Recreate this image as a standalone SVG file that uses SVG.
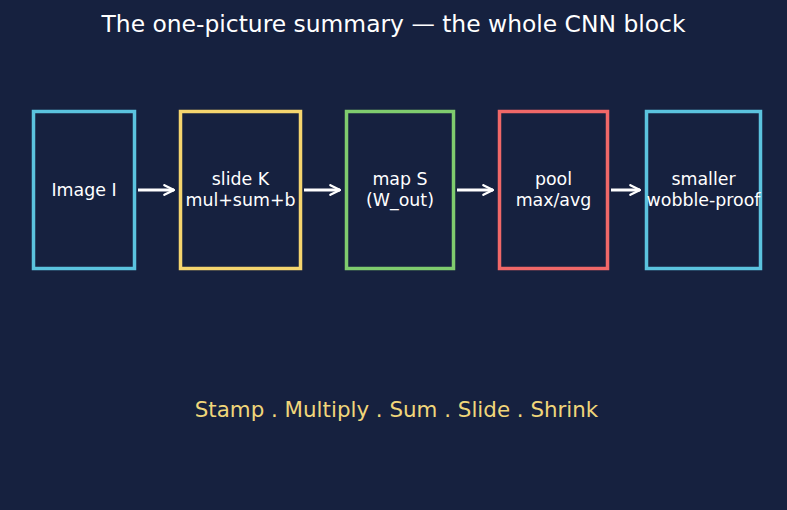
<svg xmlns="http://www.w3.org/2000/svg" width="787" height="510" viewBox="0 0 787 510">
<defs>
<style>
.t{font-family:"DejaVu Sans",sans-serif;fill:#ffffff;text-anchor:middle}
.n{font-size:17.4px}
.box{fill:#16213f;stroke-width:3.5}
.c{stroke:#ffffff;stroke-width:3;fill:none}
</style>
<marker id="ah" viewBox="0 0 10 10" refX="9" refY="5" markerWidth="4" markerHeight="4" orient="auto" markerUnits="strokeWidth">
<path d="M1,1 L9,5 L1,9" fill="none" stroke="#ffffff" stroke-width="2" stroke-linecap="round" stroke-linejoin="round"/>
</marker>
</defs>
<rect width="787" height="510" fill="#16213f"/>
<text class="t" x="393.5" y="32" font-size="23.4">The one-picture summary — the whole CNN block</text>
<g id="connectors">
<line class="c" x1="138" y1="190" x2="174" y2="190" marker-end="url(#ah)"/>
<line class="c" x1="304" y1="190" x2="340" y2="190" marker-end="url(#ah)"/>
<line class="c" x1="457" y1="190" x2="493" y2="190" marker-end="url(#ah)"/>
<line class="c" x1="611" y1="190" x2="640" y2="190" marker-end="url(#ah)"/>
</g>
<g id="image">
<rect class="box" x="33.5" y="111.5" width="101" height="157" stroke="#5bc3de"/>
<text class="t n" x="84" y="196">Image I</text>
</g>
<g id="slide">
<rect class="box" x="180.5" y="111.5" width="120" height="157" stroke="#f5d56e"/>
<text class="t n" x="240.5" y="185">slide K</text>
<text class="t n" x="240.5" y="206">mul+sum+b</text>
</g>
<g id="map">
<rect class="box" x="346.5" y="111.5" width="107" height="157" stroke="#7fcc6e"/>
<text class="t n" x="400" y="185">map S</text>
<text class="t n" x="400" y="206">(W_out)</text>
</g>
<g id="pool">
<rect class="box" x="499.5" y="111.5" width="108" height="157" stroke="#f06868"/>
<text class="t n" x="553.5" y="185">pool</text>
<text class="t n" x="553.5" y="206">max/avg</text>
</g>
<g id="smaller">
<rect class="box" x="646.5" y="111.5" width="114" height="157" stroke="#5bc3de"/>
<text class="t n" x="703.5" y="185">smaller</text>
<text class="t n" x="703.5" y="206">wobble-proof</text>
</g>
<text class="t" x="396.5" y="417" font-size="21.4" style="fill:#f0d67a">Stamp . Multiply . Sum . Slide . Shrink</text>
</svg>
